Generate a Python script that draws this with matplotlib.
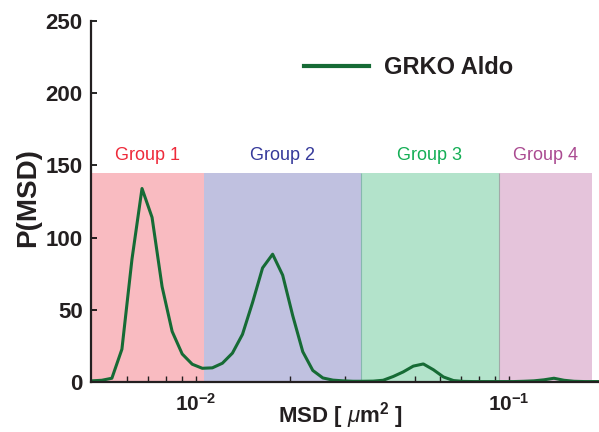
import matplotlib
matplotlib.use('Agg')
import matplotlib.pyplot as plt
from matplotlib.ticker import FixedLocator, NullFormatter

plt.rcParams['font.family'] = ['Liberation Sans', 'DejaVu Sans']
plt.rcParams['mathtext.fontset'] = 'custom'
plt.rcParams['mathtext.rm'] = 'Liberation Sans'
plt.rcParams['mathtext.bf'] = 'Liberation Sans:bold'
plt.rcParams['mathtext.it'] = 'Liberation Sans:italic'

# ---- data ----
msd = [0.004642, 0.005000, 0.005383, 0.005796, 0.006241, 0.006720, 0.007235,
       0.007790, 0.008388, 0.009032, 0.009725, 0.010471, 0.011274, 0.012139,
       0.013070, 0.014073, 0.015153, 0.016315, 0.017567, 0.018915, 0.020366,
       0.021929, 0.023611, 0.025423, 0.027373, 0.029473, 0.031735, 0.034170,
       0.036791, 0.039614, 0.042654, 0.045926, 0.049450, 0.053244, 0.057329,
       0.061728, 0.066464, 0.071563, 0.077054, 0.082966, 0.089332, 0.096185,
       0.10357, 0.11151, 0.12007, 0.12928, 0.13920, 0.14988, 0.16138, 0.17376,
       0.18709, 0.20144]
p_msd = [0.8, 1.2, 2.6, 22.7, 85, 134, 114,
         66, 35, 19.4, 12.3, 9.5, 9.8, 13,
         20, 33, 55, 79, 88.5, 74, 46,
         21, 8, 2.8, 1.3, 0.8, 0.5, 0.5,
         0.6, 1.2, 3.8, 7, 11, 12.5, 8.5,
         3.5, 1, 0.4, 0.3, 0.3, 0.3, 0.3,
         0.3, 0.5, 0.8, 1.5, 2.6, 1.2, 0.5, 0.3,
         0.3, 0.3]
series_label = 'GRKO Aldo'

group_names = ['Group 1', 'Group 2', 'Group 3', 'Group 4']
group_edges = [0.004617, 0.01061, 0.03359, 0.09270, 0.1837]
group_top = 144.5
group_fill = ['#F9BBC1', '#C0C1E0', '#B3E3CB', '#E5C4DB']
group_text = ['#EE2A3A', '#35399A', '#14AE55', '#AA4B91']
label_y = 153.7

yticks = [0, 50, 100, 150, 200, 250]
xmajor = [0.01, 0.1]
xmajor_labels = [r'$\mathbf{10^{-2}}$', r'$\mathbf{10^{-1}}$']
xminor = [0.006, 0.007, 0.008, 0.009, 0.02, 0.03,
          0.05, 0.06, 0.07, 0.08, 0.09]

line_color = '#166B35'

# ---- figure ----
fig = plt.figure(figsize=(5.99, 4.32), dpi=100)
ax = fig.add_axes([91 / 599, 1 - 382 / 432, 512.2 / 599, 361 / 432])
ax.set_xscale('log')
ax.set_xlim(0.004617, 0.2)
ax.set_ylim(0, 250)

for i in range(4):
    ax.axvspan(group_edges[i], group_edges[i + 1], ymin=0, ymax=group_top / 250,
               facecolor=group_fill[i], edgecolor='none', zorder=0)
    xc = (group_edges[i] * group_edges[i + 1]) ** 0.5
    ax.text(xc, label_y, group_names[i], color=group_text[i], fontsize=13,
            ha='center', va='baseline')
ax.vlines([group_edges[2]], 0, group_top, colors='#86B8AE', linewidth=0.8, zorder=1)
ax.vlines([group_edges[3]], 0, group_top, colors='#A2A9A8', linewidth=0.8, zorder=1)

ax.plot(msd, p_msd, color=line_color, linewidth=2.2, label=series_label, zorder=3,
        clip_on=True)

for s in ['top', 'right']:
    ax.spines[s].set_visible(False)
for s in ['left', 'bottom']:
    ax.spines[s].set_linewidth(1.6)
    ax.spines[s].set_color('#231F20')
    ax.spines[s].set_zorder(4)

ax.set_yticks(yticks)
ax.set_yticklabels([str(v) for v in yticks], fontsize=16, fontweight='bold',
                   color='#231F20')
ax.tick_params(axis='y', direction='in', length=4, width=1.2, pad=6)

ax.xaxis.set_major_locator(FixedLocator(xmajor))
ax.set_xticklabels(xmajor_labels, fontsize=15, color='#231F20')
ax.xaxis.set_minor_locator(FixedLocator(xminor))
ax.xaxis.set_minor_formatter(NullFormatter())
ax.tick_params(axis='x', which='both', direction='in', length=4, width=1.0, pad=8,
               colors='#231F20')

ax.set_ylabel('P(MSD)', fontsize=20, fontweight='bold', color='#231F20')
ax.yaxis.set_label_coords(-0.098, 0.51)
ax.set_xlabel(r'MSD [ $\mu$m$^{\mathbf{2}}$ ]', fontsize=16, fontweight='bold',
              color='#231F20')
ax.xaxis.set_label_coords(0.488, -0.05)

leg = ax.legend(loc='center left', bbox_to_anchor=(0.4159, 0.870), frameon=False,
                prop={'size': 17, 'weight': 'bold'}, handlelength=2.75,
                handletextpad=0.62, borderpad=0, borderaxespad=0)
for t in leg.get_texts():
    t.set_color('#231F20')
for l in leg.get_lines():
    l.set_linewidth(3)

fig.savefig('out.png', dpi=100)
